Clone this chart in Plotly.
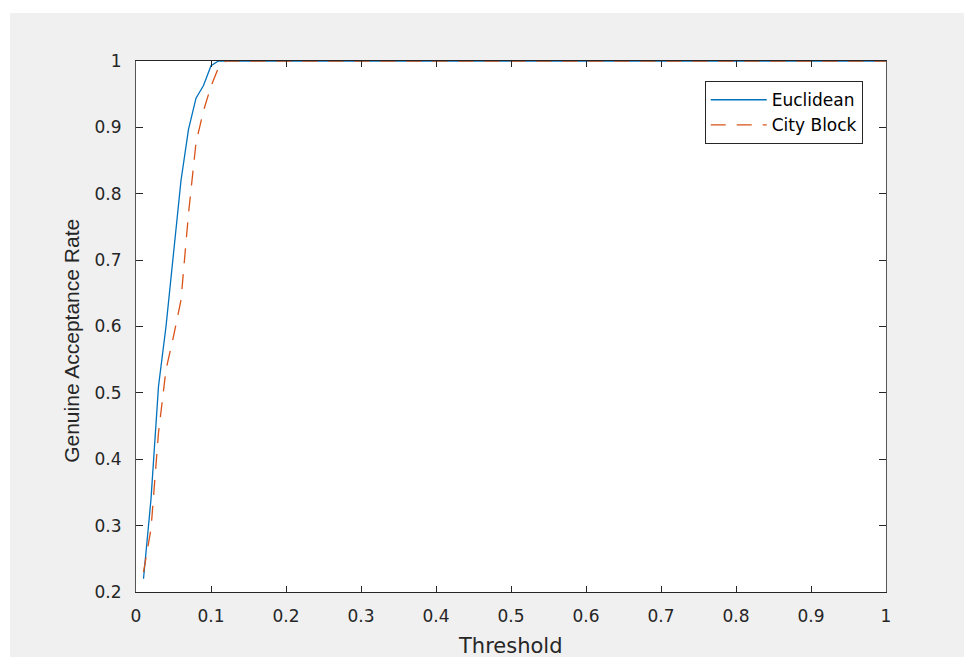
import plotly.graph_objects as go

threshold = [0.01, 0.02, 0.03, 0.04, 0.05, 0.06, 0.07, 0.08, 0.09, 0.10, 0.11, 0.12, 1.00]
euclidean = [0.22, 0.34, 0.51, 0.60, 0.71, 0.82, 0.897, 0.944, 0.963, 0.993, 1.0, 1.0, 1.0]
city_block = [0.23, 0.295, 0.44, 0.535, 0.585, 0.64, 0.77, 0.877, 0.925, 0.962, 0.99, 1.0, 1.0]

x_ticks = [0, 0.1, 0.2, 0.3, 0.4, 0.5, 0.6, 0.7, 0.8, 0.9, 1.0]
x_tick_text = ["0", "0.1", "0.2", "0.3", "0.4", "0.5", "0.6", "0.7", "0.8", "0.9", "1"]
y_ticks = [0.2, 0.3, 0.4, 0.5, 0.6, 0.7, 0.8, 0.9, 1.0]
y_tick_text = ["0.2", "0.3", "0.4", "0.5", "0.6", "0.7", "0.8", "0.9", "1"]

fig = go.Figure()
fig.add_trace(go.Scatter(x=threshold, y=euclidean, mode="lines", name="Euclidean",
                         line=dict(color="#0072BD", width=1.3)))
fig.add_trace(go.Scatter(x=threshold, y=city_block, mode="lines", name="City Block",
                         line=dict(color="#D95319", width=1.3, dash="15px,11px")))

tickfont = dict(family="DejaVu Sans", size=17, color="#262626")

fig.update_layout(
    width=964, height=657,
    margin=dict(l=136, r=78, t=61, b=65),
    paper_bgcolor="#f0f0f0",
    plot_bgcolor="white",
    showlegend=True,
    legend=dict(
        x=0.969, y=0.962, xanchor="right", yanchor="top",
        bgcolor="white", bordercolor="#262626", borderwidth=1,
        font=dict(family="DejaVu Sans", size=17, color="#000000"),
        itemwidth=56,
        tracegroupgap=0,
    ),
    xaxis=dict(
        range=[0, 1], tickvals=x_ticks, ticktext=x_tick_text,
        ticks="inside", ticklen=6, tickwidth=1.3, tickcolor="#262626",
        showline=True, linecolor="#262626", linewidth=1.3, mirror="ticks",
        showgrid=False, zeroline=False, tickfont=tickfont,
        ticklabelstandoff=8,
    ),
    yaxis=dict(
        range=[0.2, 1], tickvals=y_ticks, ticktext=y_tick_text,
        ticks="inside", ticklen=7, tickwidth=1.3, tickcolor="#262626",
        showline=True, linecolor="#555555", linewidth=1.2, mirror="ticks",
        showgrid=False, zeroline=False, tickfont=tickfont,
        ticklabelstandoff=10,
    ),
    shapes=[
        dict(type="rect", xref="paper", yref="paper", x0=-0.3, x1=1.2, y0=1.0904, y1=1.3,
             fillcolor="white", line=dict(width=0), layer="below"),
        dict(type="rect", xref="paper", yref="paper", x0=-0.3, x1=-0.168, y0=-0.3, y1=1.3,
             fillcolor="white", line=dict(width=0), layer="below"),
    ],
    annotations=[
        dict(text="Threshold", xref="paper", yref="paper", x=0.499, y=-0.102,
             xanchor="center", yanchor="middle", showarrow=False,
             font=dict(family="DejaVu Sans", size=21, color="#262626")),
        dict(text="Genuine Acceptance Rate", xref="paper", yref="paper", x=(72 - 136) / 750, y=0.473,
             xanchor="center", yanchor="middle", showarrow=False, textangle=-90,
             font=dict(family="Liberation Sans", size=21, color="#262626")),
    ],
)

fig.write_html(
    "out.html",
    config={"displayModeBar": False},
    post_script="document.body.style.margin='0';document.body.style.overflow='hidden';",
)
